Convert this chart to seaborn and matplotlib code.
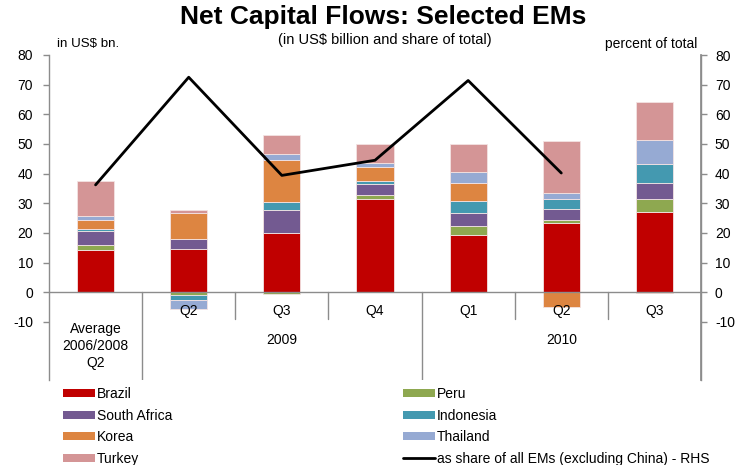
import numpy as np
import pandas as pd
import matplotlib
matplotlib.use("Agg")
import matplotlib.pyplot as plt
from matplotlib.patches import Patch
from matplotlib.lines import Line2D
import seaborn as sns

# Periods (x categories)
periods = ["Avg 2006/2008 Q2", "2009 Q2", "2009 Q3", "2009 Q4", "2010 Q1", "2010 Q2", "2010 Q3"]
quarter_labels = ["", "Q2", "Q3", "Q4", "Q1", "Q2", "Q3"]
first_label = "Average\n2006/2008\nQ2"
year_labels = ["2009", "2010"]

# Net capital flows by country, US$ billion
brazil       = [14.1, 14.6, 20.1, 31.4, 19.4, 23.2, 27.2]
peru         = [1.9, -0.9, -0.7, 1.5, 3.0, 1.2, 4.2]
south_africa = [4.5, 3.2, 7.5, 3.5, 4.2, 3.6, 5.6]
indonesia    = [0.8, -1.7, 2.7, 1.0, 4.0, 3.3, 6.4]
korea        = [2.9, 8.9, 14.2, 4.9, 6.1, -4.9, -0.3]
thailand     = [1.6, -3.1, 2.0, 1.3, 3.7, 2.1, 7.8]
turkey       = [11.6, 1.0, 6.6, 6.3, 9.5, 17.6, 12.8]

# Share of all EM flows (excluding China), percent - RHS
share = [36.2, 72.5, 39.4, 44.5, 71.4, 40.2, np.nan]

series = [
    ("Brazil", brazil, "#C00000"),
    ("Peru", peru, "#8EA850"),
    ("South Africa", south_africa, "#735A91"),
    ("Indonesia", indonesia, "#4499B0"),
    ("Korea", korea, "#DD8541"),
    ("Thailand", thailand, "#96AAD3"),
    ("Turkey", turkey, "#D49596"),
]

sns.set_theme(style="white")
plt.rcParams["font.family"] = ["Liberation Sans", "DejaVu Sans"]
plt.rcParams["axes.unicode_minus"] = False
plt.rcParams["text.color"] = "black"
plt.rcParams["ytick.labelcolor"] = "black"

fig = plt.figure(figsize=(7.35, 4.65), dpi=100)
ax = fig.add_axes([49 / 735, 1 - 380 / 465, (701 - 49) / 735, (380 - 55) / 465])

ymin, ymax = -29.6, 80
gray = "#8C8C8C"

# Stacked bars: positives and negatives accumulate separately
pos_base = np.zeros(len(periods))
neg_base = np.zeros(len(periods))
for name, vals, color in series:
    v = np.array(vals, dtype=float)
    bottom = np.where(v >= 0, pos_base, neg_base)
    df = pd.DataFrame({"period": periods, "value": v})
    sns.barplot(data=df, x="period", y="value", order=periods, color=color,
                bottom=bottom, width=0.40, saturation=1, errorbar=None,
                edgecolor="#F3E3E3", linewidth=0.6, ax=ax)
    pos_base = pos_base + np.where(v >= 0, v, 0)
    neg_base = neg_base + np.where(v < 0, v, 0)

ax.set_xlim(-0.5, len(periods) - 0.5)
ax.set_ylim(ymin, ymax)
ax.set_xlabel("")
ax.set_ylabel("")
ax.set_xticks([])
ax.set_yticks(np.arange(-10, 81, 10))
ax.tick_params(axis="y", direction="out", length=4, width=1, color=gray,
               labelsize=10, pad=7.5, labelcolor="black", left=True)

for side in ["top", "bottom"]:
    ax.spines[side].set_visible(False)
for side in ["left", "right"]:
    ax.spines[side].set_color(gray)
    ax.spines[side].set_linewidth(1)

# Category axis at zero with multi-level separators
ax.axhline(0, color=gray, lw=1, zorder=1)
for xb in [1.5, 2.5, 4.5, 5.5]:
    ax.plot([xb, xb], [0, -9.0], color=gray, lw=1, zorder=1)
for xb in [0.5, 3.5]:
    ax.plot([xb, xb], [0, ymin], color=gray, lw=1, zorder=1)

for i, q in enumerate(quarter_labels):
    if q:
        ax.text(i, -6.3, q, ha="center", va="center", fontsize=10)
ax.text(0, -18.1, first_label, ha="center", va="center", fontsize=10,
        linespacing=1.25)
ax.text(2, -16.1, year_labels[0], ha="center", va="center", fontsize=10)
ax.text(5, -16.1, year_labels[1], ha="center", va="center", fontsize=10)

# Share line on the right-hand axis
ax2 = ax.twinx()
sns.lineplot(x=np.arange(len(periods)), y=share, color="black", lw=2, ax=ax2)
ax2.set_ylim(ymin, ymax)
ax2.set_xlim(-0.5, len(periods) - 0.5)
ax2.set_yticks(np.arange(-10, 81, 10))
ax2.tick_params(axis="y", direction="out", length=4, width=1, color=gray,
                labelsize=10, pad=6, labelcolor="black", right=True)
for side in ["top", "bottom", "left"]:
    ax2.spines[side].set_visible(False)
ax2.spines["right"].set_color(gray)

# Titles and axis captions
fig.text(383 / 735, 1 - 17 / 465, "Net Capital Flows: Selected EMs", ha="center",
         va="center", fontsize=19, fontweight="bold", color="black")
fig.text(385 / 735, 1 - 40 / 465, "(in US$ billion and share of total)", ha="center",
         va="center", fontsize=10.5, color="black")
fig.text(57 / 735, 1 - 44 / 465, "in US$ bn.", ha="left", va="center", fontsize=9.6,
         color="black")
fig.text(697 / 735, 1 - 44 / 465, "percent of total", ha="right", va="center",
         fontsize=10, color="black")

# Legend in two columns
def patch(name):
    c = dict((n, col) for n, _, col in series)[name]
    return Patch(facecolor=c, edgecolor="none", label=name)

left_items = [patch("Brazil"), patch("South Africa"), patch("Korea"), patch("Turkey")]
right_items = [patch("Peru"), patch("Indonesia"), patch("Thailand"),
               Line2D([0], [0], color="black", lw=2,
                      label="as share of all EMs (excluding China) - RHS")]
for items, xpos in [(left_items, 63 / 735), (right_items, 403 / 735)]:
    leg = fig.legend(handles=items, loc="upper left",
                     bbox_to_anchor=(xpos, 1 - 387 / 465),
                     frameon=False, fontsize=10, handlelength=2.3, handleheight=0.5,
                     handletextpad=0.15, labelspacing=0.55, borderaxespad=0,
                     borderpad=0)
    for t in leg.get_texts():
        t.set_color("black")

fig.savefig("out.png", dpi=100)
